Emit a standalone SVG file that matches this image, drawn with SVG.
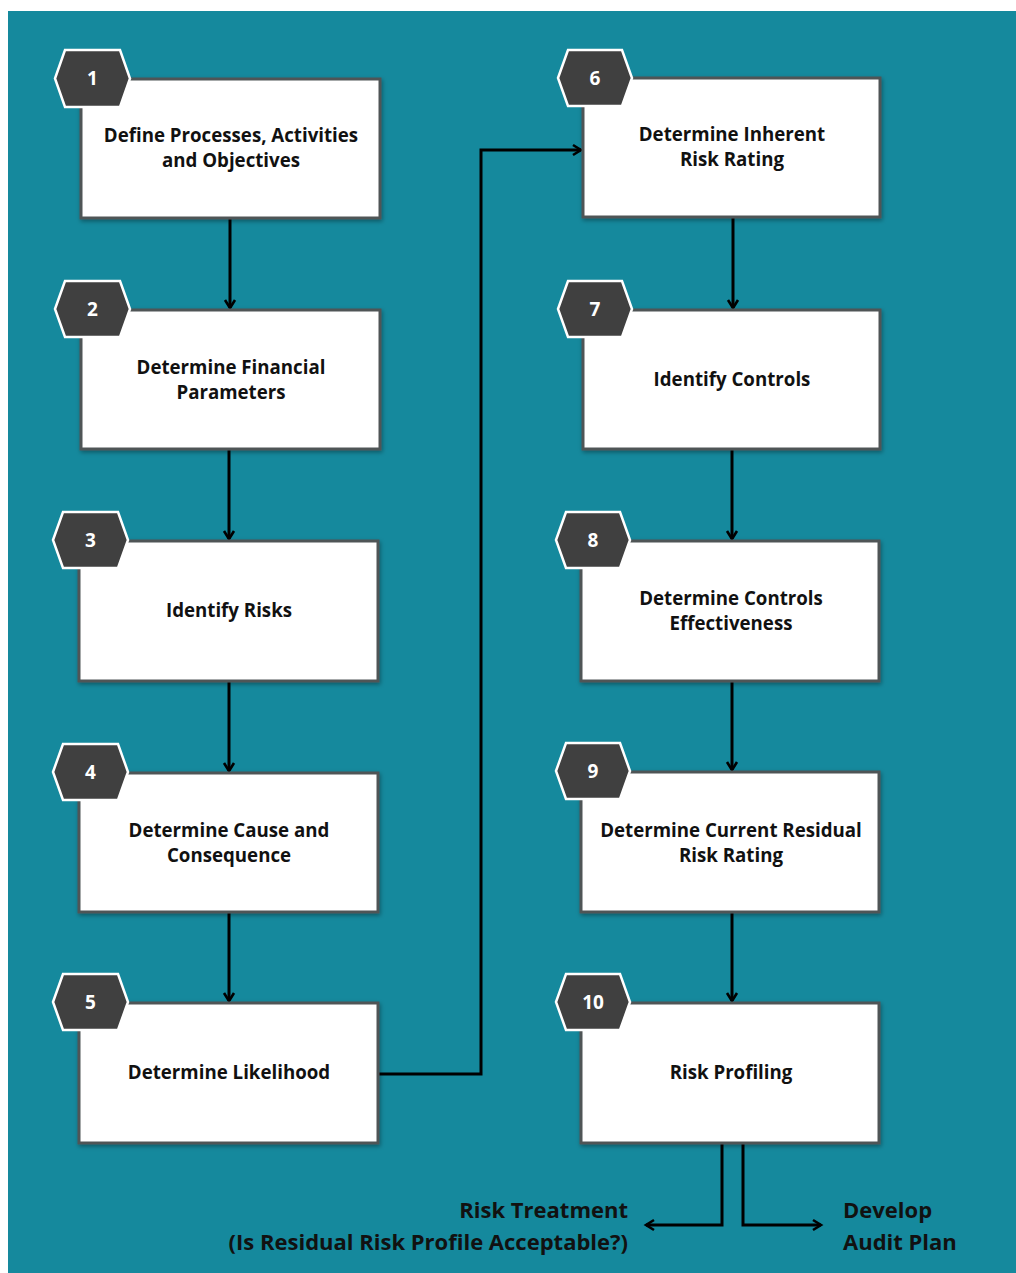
<svg xmlns="http://www.w3.org/2000/svg" width="1016" height="1273" viewBox="0 0 1016 1273">
<defs>
<style>
.box{fill:#ffffff;stroke:#4f5556;stroke-width:3;filter:url(#sh)}
.hex{fill:#404040;stroke:#ffffff;stroke-width:2.5}
.num{font-family:"Open Sans",Lato,sans-serif;font-weight:bold;font-size:19px;fill:#ffffff;text-anchor:middle}
.lbl{font-family:"Open Sans",Lato,sans-serif;font-weight:bold;font-size:18.7px;fill:#111111;text-anchor:middle}
.out{font-family:"Open Sans",Lato,sans-serif;font-weight:bold;font-size:22px;fill:#111111}
.con{fill:none;stroke:#000000;stroke-width:3;marker-end:url(#ah)}
</style>
<marker id="ah" markerWidth="14" markerHeight="14" refX="10" refY="6" orient="auto" markerUnits="userSpaceOnUse" viewBox="0 0 14 12">
<path d="M2,1 L10,6 L2,11" fill="none" stroke="#000" stroke-width="2.6"/>
</marker>
<filter id="sh" x="-10%" y="-10%" width="120%" height="125%">
<feDropShadow dx="1" dy="2" stdDeviation="2" flood-color="#000" flood-opacity="0.35"/>
</filter>
</defs>
<rect x="8" y="11" width="1008" height="1262" fill="#15899d"/>

<g id="connectors">
<path class="con" d="M230,219 V308"/>
<path class="con" d="M229,450 V539"/>
<path class="con" d="M229,682 V771"/>
<path class="con" d="M229,913 V1001"/>
<path class="con" d="M379,1074 H481 V150 H581"/>
<path class="con" d="M733,218 V308"/>
<path class="con" d="M732,450 V539"/>
<path class="con" d="M732,682 V770"/>
<path class="con" d="M732,913 V1001"/>
<path class="con" d="M722,1144 V1225 H646"/>
<path class="con" d="M743,1144 V1225 H821"/>
</g>

<g id="n1"><rect class="box" x="81" y="79" width="299" height="139"/>
<polygon class="hex" points="55,78.5 65,50 120,50 130,78.5 120,107 65,107"/>
<text class="num" x="92.5" y="85">1</text>
<text class="lbl" x="231" y="141.5">Define Processes, Activities</text>
<text class="lbl" x="231" y="167">and Objectives</text></g>

<g id="n2"><rect class="box" x="81" y="310" width="299" height="139"/>
<polygon class="hex" points="55,309 65,281 120,281 130,309 120,337 65,337"/>
<text class="num" x="92.5" y="315.5">2</text>
<text class="lbl" x="231" y="373.5">Determine Financial</text>
<text class="lbl" x="231" y="399">Parameters</text></g>

<g id="n3"><rect class="box" x="79" y="541" width="299" height="140"/>
<polygon class="hex" points="53,540 63,512 118,512 128,540 118,568 63,568"/>
<text class="num" x="90.5" y="546.5">3</text>
<text class="lbl" x="229" y="617">Identify Risks</text></g>

<g id="n4"><rect class="box" x="79" y="773" width="299" height="139"/>
<polygon class="hex" points="53,772 63,744 118,744 128,772 118,800 63,800"/>
<text class="num" x="90.5" y="778.5">4</text>
<text class="lbl" x="229" y="836.5">Determine Cause and</text>
<text class="lbl" x="229" y="862">Consequence</text></g>

<g id="n5"><rect class="box" x="79" y="1003" width="299" height="140"/>
<polygon class="hex" points="53,1002 63,974 118,974 128,1002 118,1030 63,1030"/>
<text class="num" x="90.5" y="1008.5">5</text>
<text class="lbl" x="229" y="1079">Determine Likelihood</text></g>

<g id="n6"><rect class="box" x="583" y="78" width="297" height="139"/>
<polygon class="hex" points="558,78 568,50 622,50 632,78 622,106 568,106"/>
<text class="num" x="595" y="84.5">6</text>
<text class="lbl" x="732" y="140.5">Determine Inherent</text>
<text class="lbl" x="732" y="166">Risk Rating</text></g>

<g id="n7"><rect class="box" x="583" y="310" width="297" height="139"/>
<polygon class="hex" points="558,309 568,281 622,281 632,309 622,337 568,337"/>
<text class="num" x="595" y="315.5">7</text>
<text class="lbl" x="732" y="386">Identify Controls</text></g>

<g id="n8"><rect class="box" x="581" y="541" width="298" height="140"/>
<polygon class="hex" points="556,540 566,512 620,512 630,540 620,568 566,568"/>
<text class="num" x="593" y="546.5">8</text>
<text class="lbl" x="731" y="604.5">Determine Controls</text>
<text class="lbl" x="731" y="630">Effectiveness</text></g>

<g id="n9"><rect class="box" x="581" y="772" width="298" height="140"/>
<polygon class="hex" points="556,771 566,743 620,743 630,771 620,799 566,799"/>
<text class="num" x="593" y="777.5">9</text>
<text class="lbl" x="731" y="836.5">Determine Current Residual</text>
<text class="lbl" x="731" y="862">Risk Rating</text></g>

<g id="n10"><rect class="box" x="581" y="1003" width="298" height="140"/>
<polygon class="hex" points="556,1002 566,974 620,974 630,1002 620,1030 566,1030"/>
<text class="num" x="593" y="1008.5">10</text>
<text class="lbl" x="731" y="1079">Risk Profiling</text></g>

<g id="out1"><text class="out" x="628" y="1218" text-anchor="end">Risk Treatment</text>
<text class="out" x="628" y="1250" text-anchor="end">(Is Residual Risk Profile Acceptable?)</text></g>
<g id="out2"><text class="out" x="843" y="1218">Develop</text>
<text class="out" x="843" y="1250">Audit Plan</text></g>
</svg>
